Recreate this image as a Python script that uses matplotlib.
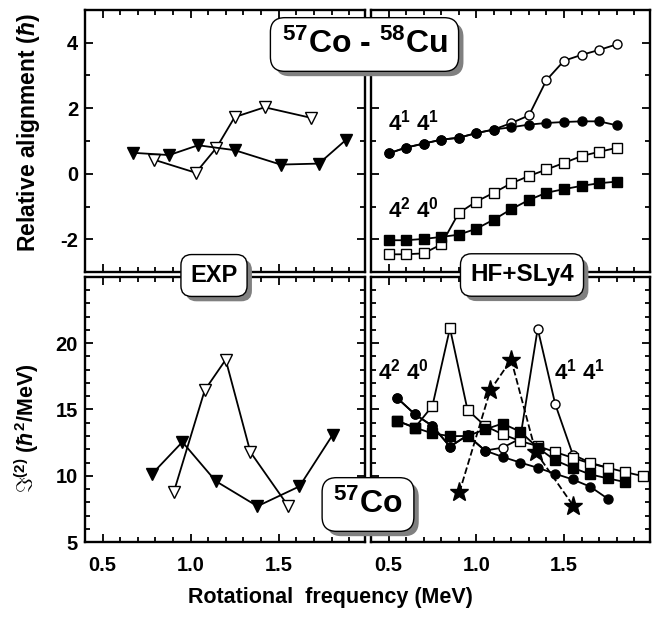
import matplotlib
matplotlib.use("Agg")
import matplotlib.pyplot as plt
import matplotlib.patheffects as pe
from matplotlib.ticker import MultipleLocator

plt.rcParams['font.family'] = ['Liberation Sans', 'DejaVu Sans']
plt.rcParams['font.weight'] = 'bold'
plt.rcParams['axes.unicode_minus'] = False
plt.rcParams['mathtext.fontset'] = 'custom'
plt.rcParams['mathtext.rm'] = 'Liberation Sans:bold'
plt.rcParams['mathtext.it'] = 'Liberation Sans:bold:italic'
plt.rcParams['mathtext.bf'] = 'Liberation Sans:bold'

# EXP, relative alignment
exp_fav_w = [0.673, 0.878, 1.042, 1.250, 1.511, 1.728, 1.883]
exp_fav_i = [0.64, 0.57, 0.87, 0.72, 0.28, 0.31, 1.04]
exp_unf_w = [0.791, 1.029, 1.146, 1.250, 1.420, 1.681]
exp_unf_i = [0.43, 0.03, 0.79, 1.73, 2.03, 1.71]

# EXP, J(2)
exp_fav_jw = [0.778, 0.953, 1.142, 1.379, 1.618, 1.807]
exp_fav_j = [10.1, 12.55, 9.6, 7.7, 9.2, 13.1]
exp_unf_jw = [0.904, 1.080, 1.199, 1.339, 1.552]
exp_unf_j = [8.76, 16.46, 18.76, 11.79, 7.75]

# HF+SLy4, relative alignment
hf_w = [0.5, 0.6, 0.7, 0.8, 0.9, 1.0, 1.1, 1.2, 1.3, 1.4, 1.5, 1.6, 1.7, 1.8]
c41_fav = [0.62, 0.80, 0.92, 1.04, 1.10, 1.24, 1.35, 1.42, 1.50, 1.55, 1.58, 1.60, 1.60, 1.48]
c41_unf = [0.62, 0.80, 0.92, 1.04, 1.10, 1.24, 1.35, 1.55, 1.78, 2.86, 3.45, 3.63, 3.78, 3.95]
c40_fav = [-2.03, -2.03, -1.99, -1.93, -1.86, -1.68, -1.40, -1.08, -0.80, -0.58, -0.47, -0.37, -0.29, -0.24]
c40_unf = [-2.46, -2.46, -2.43, -2.16, -1.20, -0.85, -0.58, -0.29, -0.07, 0.13, 0.33, 0.54, 0.67, 0.79]

# HF+SLy4, J(2)
hf_jw_c = [0.55, 0.65, 0.75, 0.85, 0.95, 1.05, 1.15, 1.25, 1.35, 1.45, 1.55, 1.65, 1.75]
j41_fav = [15.86, 14.64, 13.76, 12.2, 13.05, 11.9, 11.42, 11.0, 10.6, 10.15, 9.72, 9.17, 8.26]
j41_unf = [15.86, 14.64, 13.76, 12.2, 13.05, 11.9, 12.12, 12.8, 21.1, 15.4, 11.6, 10.98, 10.6]
hf_jw_sf = [0.55, 0.65, 0.75, 0.85, 0.95, 1.05, 1.15, 1.25, 1.35, 1.45, 1.55, 1.65, 1.75, 1.85]
j40_fav = [14.14, 13.63, 13.2, 12.99, 13.0, 13.5, 13.94, 13.33, 12.12, 11.16, 10.6, 10.1, 9.8, 9.52]
hf_jw_so = [0.55, 0.65, 0.75, 0.85, 0.95, 1.05, 1.15, 1.25, 1.35, 1.45, 1.55, 1.65, 1.75, 1.85, 1.95]
j40_unf = [14.14, 13.63, 15.27, 21.13, 14.97, 13.76, 13.13, 12.62, 12.24, 11.79, 11.35, 10.93, 10.6, 10.27, 9.97]

W, H = 665, 619
fig = plt.figure(figsize=(W / 100, H / 100), dpi=100)
ax_tl = fig.add_axes([85 / W, 1 - 272 / H, 280 / W, 262 / H])
ax_tr = fig.add_axes([371 / W, 1 - 272 / H, 279 / W, 262 / H])
ax_bl = fig.add_axes([85 / W, 1 - 542 / H, 280 / W, 265 / H])
ax_br = fig.add_axes([371 / W, 1 - 542 / H, 279 / W, 265 / H])


def style(ax, top, left):
    ax.set_xlim(0.4, 1.99)
    ax.xaxis.set_major_locator(MultipleLocator(0.5))
    ax.xaxis.set_minor_locator(MultipleLocator(0.1))
    if top:
        ax.set_ylim(-3, 5)
        ax.yaxis.set_major_locator(MultipleLocator(2))
        ax.yaxis.set_minor_locator(MultipleLocator(1))
    else:
        ax.set_ylim(5, 25)
        ax.set_yticks([5, 10, 15, 20])
        ax.yaxis.set_minor_locator(MultipleLocator(1))
    ax.tick_params(which='both', direction='in', top=True, right=True, width=1.3)
    ax.tick_params(which='major', length=6)
    ax.tick_params(which='minor', length=3.5)
    ax.tick_params(axis='x', labelbottom=not top, labelsize=14.5, pad=10)
    ax.tick_params(axis='y', labelleft=left, labelsize=14.5, pad=5)
    for s in ax.spines.values():
        s.set_linewidth(1.7)


for a, t, l in [(ax_tl, True, True), (ax_tr, True, False), (ax_bl, False, True), (ax_br, False, False)]:
    style(a, t, l)

lk = dict(color='black', lw=1.3)

ax_tl.plot(exp_unf_w, exp_unf_i, marker='v', ms=9, mfc='white', mec='black', **lk)
ax_tl.plot(exp_fav_w, exp_fav_i, marker='v', ms=9, mfc='black', mec='black', **lk)

ax_bl.plot(exp_unf_jw, exp_unf_j, marker='v', ms=9, mfc='white', mec='black', **lk)
ax_bl.plot(exp_fav_jw, exp_fav_j, marker='v', ms=9, mfc='black', mec='black', **lk)

ax_tr.plot(hf_w, c41_unf, marker='o', ms=6.5, mfc='white', mec='black', **lk)
ax_tr.plot(hf_w, c41_fav, marker='o', ms=6.5, mfc='black', mec='black', **lk)
ax_tr.plot(hf_w, c40_unf, marker='s', ms=6.5, mfc='white', mec='black', **lk)
ax_tr.plot(hf_w, c40_fav, marker='s', ms=6.5, mfc='black', mec='black', **lk)

ax_br.plot(hf_jw_c, j41_unf, marker='o', ms=6.5, mfc='white', mec='black', **lk)
ax_br.plot(hf_jw_c, j41_fav, marker='o', ms=6.5, mfc='black', mec='black', **lk)
ax_br.plot(hf_jw_so, j40_unf, marker='s', ms=6.5, mfc='white', mec='black', **lk)
ax_br.plot(hf_jw_sf, j40_fav, marker='s', ms=6.5, mfc='black', mec='black', **lk)
ax_br.plot(exp_unf_jw, exp_unf_j, marker='*', ms=14, mfc='black', mec='black',
           color='black', lw=1.3, ls='--')

lab = dict(fontsize=16, fontweight='bold', ha='left', va='baseline')
ax_tr.text(0.496, 1.32, r'4$^{1}$ 4$^{1}$', **lab)
ax_tr.text(0.496, -1.34, r'4$^{2}$ 4$^{0}$', **lab)
ax_br.text(0.44, 17.3, r'4$^{2}$ 4$^{0}$', **lab)
ax_br.text(1.443, 17.3, r'4$^{1}$ 4$^{1}$', **lab)


def box(x, y, s, size, pad):
    t = fig.text(x / W, 1 - y / H, s, ha='center', va='center', fontsize=size,
                 fontweight='bold', zorder=10,
                 bbox=dict(boxstyle='round,pad=%s,rounding_size=0.45' % pad,
                           fc='white', ec='black', lw=1.0))
    t.get_bbox_patch().set_path_effects([
        pe.SimplePatchShadow(offset=(3.5, -3.5), shadow_rgbFace='0.5', alpha=1.0),
        pe.Normal()])


box(364.5, 44.5, r'$^{57}$Co - $^{58}$Cu', 23, 0.35)
box(214, 275.5, 'EXP', 17, 0.4)
box(522, 275, 'HF+SLy4', 17.5, 0.4)
box(368, 504.5, r'$^{57}$Co', 23, 0.35)

fig.text(29 / W, 1 - 133 / H, r'Relative alignment ($\hbar$)', rotation=90,
         ha='center', va='center', fontsize=16.5, fontweight='bold')
fig.text(27 / W, 1 - 428 / H, r'$\Im^{(2)}$ ($\hbar^{2}$/MeV)', rotation=90,
         ha='center', va='center', fontsize=15.5, fontweight='bold')
fig.text(330 / W, 1 - 598 / H, 'Rotational  frequency (MeV)',
         ha='center', va='center', fontsize=15.5, fontweight='bold')

fig.savefig('out.png', dpi=100)
